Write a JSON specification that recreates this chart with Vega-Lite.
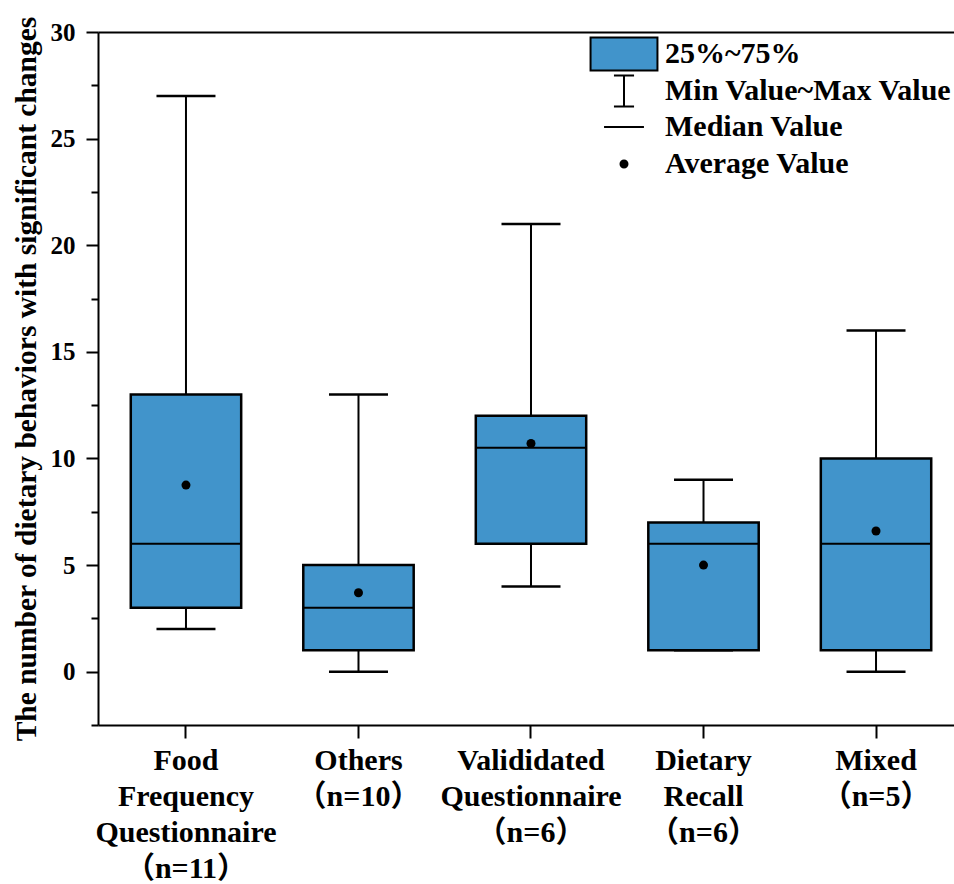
{
  "$schema": "https://vega.github.io/schema/vega-lite/v6.json",
  "width": 856,
  "height": 693,
  "autosize": "none",
  "padding": {"left": 98, "top": 32, "right": 0, "bottom": 159},
  "background": "white",
  "config": {
    "view": {"stroke": null},
    "font": "Liberation Serif",
    "axisY": {
      "domainColor": "black", "domainWidth": 2, "tickColor": "black", "tickWidth": 2,
      "labelFont": "Liberation Serif", "labelFontWeight": "bold", "labelFontSize": 25, "labelColor": "black",
      "titleFont": "Liberation Serif", "titleFontWeight": "bold", "titleFontSize": 29.5, "titleColor": "black",
      "grid": false
    }
  },
  "datasets": {
    "boxes": [
      {"cat": "Food|Frequency|Questionnaire|（n=11）", "min": 2, "q1": 3, "median": 6, "q3": 13, "max": 27, "mean": 8.75},
      {"cat": "Others|（n=10）", "min": 0, "q1": 1, "median": 3, "q3": 5, "max": 13, "mean": 3.7},
      {"cat": "Valididated|Questionnaire|（n=6）", "min": 4, "q1": 6, "median": 10.5, "q3": 12, "max": 21, "mean": 10.7},
      {"cat": "Dietary|Recall|（n=6）", "min": 1, "q1": 1, "median": 6, "q3": 7, "max": 9, "mean": 5.0},
      {"cat": "Mixed|（n=5）", "min": 0, "q1": 1, "median": 6, "q3": 10, "max": 16, "mean": 6.6}
    ],
    "legendItems": [
      {"item": "25%~75%"},
      {"item": "Min Value~Max Value"},
      {"item": "Median Value"},
      {"item": "Average Value"}
    ]
  },
  "layer": [
    {
      "data": {"name": "boxes"},
      "mark": {"type": "rule", "color": "black", "strokeWidth": 2},
      "encoding": {
        "x": {
          "field": "cat", "type": "nominal", "sort": null,
          "scale": {"paddingInner": 0.36, "paddingOuter": 0.161, "align": 0.59},
          "axis": {
            "orient": "bottom", "title": null, "labelAngle": 0,
            "labelExpr": "split(datum.label, '|')",
            "labelFont": "Liberation Serif, Noto Sans CJK SC", "labelFontWeight": "bold", "labelFontSize": 30,
            "labelColor": "black", "labelLineHeight": 36, "labelPadding": 7, "labelLimit": 400,
            "labelBaseline": "top",
            "domainColor": "black", "domainWidth": 2, "tickColor": "black", "tickWidth": 2, "tickSize": 13,
            "grid": false
          }
        },
        "y": {
          "field": "min", "type": "quantitative",
          "scale": {"domain": [-2.5, 30], "nice": false, "zero": false},
          "title": "The number of dietary behaviors with significant changes",
          "axis": {
            "values": [-2.5, 0, 2.5, 5, 7.5, 10, 12.5, 15, 17.5, 20, 22.5, 25, 27.5, 30],
            "labelExpr": "datum.value % 5 === 0 ? datum.label : ''",
            "tickSize": {"condition": {"test": "datum.value % 5 === 0", "value": 12}, "value": 7},
            "labelPadding": 11, "titlePadding": 9
          }
        },
        "y2": {"field": "max"}
      }
    },
    {
      "data": {"name": "boxes"},
      "mark": {"type": "bar", "fill": "#4194CB", "stroke": "black", "strokeWidth": 2.5, "width": {"band": 1}},
      "encoding": {
        "x": {
          "field": "cat", "type": "nominal", "sort": null,
          "axis": {"orient": "top", "labels": false, "ticks": false, "title": null, "domainColor": "black", "domainWidth": 2, "grid": false}
        },
        "y": {"field": "q1", "type": "quantitative", "title": "The number of dietary behaviors with significant changes"},
        "y2": {"field": "q3"}
      }
    },
    {
      "data": {"name": "boxes"},
      "mark": {"type": "tick", "color": "black", "opacity": 1, "size": 110, "thickness": 2},
      "encoding": {
        "x": {"field": "cat", "type": "nominal", "sort": null, "axis": null},
        "y": {"field": "median", "type": "quantitative", "title": "The number of dietary behaviors with significant changes"}
      }
    },
    {
      "data": {"name": "boxes"},
      "mark": {"type": "tick", "color": "black", "opacity": 1, "size": 59, "thickness": 2.5},
      "encoding": {
        "x": {"field": "cat", "type": "nominal", "sort": null, "axis": null},
        "y": {"field": "max", "type": "quantitative", "title": "The number of dietary behaviors with significant changes"}
      }
    },
    {
      "data": {"name": "boxes"},
      "mark": {"type": "tick", "color": "black", "opacity": 1, "size": 59, "thickness": 2.5},
      "encoding": {
        "x": {"field": "cat", "type": "nominal", "sort": null, "axis": null},
        "y": {"field": "min", "type": "quantitative", "title": "The number of dietary behaviors with significant changes"}
      }
    },
    {
      "data": {"name": "boxes"},
      "mark": {"type": "point", "filled": true, "color": "black", "opacity": 1, "size": 81},
      "encoding": {
        "x": {"field": "cat", "type": "nominal", "sort": null, "axis": null},
        "y": {"field": "mean", "type": "quantitative", "title": "The number of dietary behaviors with significant changes"}
      }
    },
    {
      "data": {"name": "legendItems"},
      "mark": {"type": "point", "filled": true, "opacity": 0, "size": 900},
      "encoding": {
        "shape": {
          "field": "item", "type": "nominal",
          "scale": {
            "domain": ["25%~75%", "Min Value~Max Value", "Median Value", "Average Value"],
            "range": [
              "M-2.23,-1.1H2.23V1.1H-2.23Z",
              "M-0.67,-1.03H0.67M0,-1.03V1.03M-0.67,1.03H0.67",
              "M-1.33,0H1.33",
              "M0,-1.6M0.233,0A0.233,0.233,0,1,1,-0.233,0A0.233,0.233,0,1,1,0.233,0Z"
            ]
          },
          "legend": {
            "title": null, "orient": "none", "legendX": 510, "legendY": 6, "padding": 0,
            "symbolSize": 900, "symbolOpacity": 1, "symbolStrokeColor": "black", "symbolStrokeWidth": 2,
            "labelFont": "Liberation Serif", "labelFontWeight": "bold", "labelFontSize": 30, "labelColor": "black",
            "labelOffset": 25, "rowPadding": -6, "labelLimit": 400,
            "encode": {"symbols": {"update": {"stroke": {"value": "black"}, "strokeWidth": {"value": 2}, "opacity": {"value": 1}}}}
          }
        },
        "color": {
          "field": "item", "type": "nominal",
          "scale": {
            "domain": ["25%~75%", "Min Value~Max Value", "Median Value", "Average Value"],
            "range": ["#4194CB", "black", "black", "black"]
          },
          "legend": {
            "title": null, "orient": "none", "legendX": 510, "legendY": 6, "padding": 0,
            "symbolSize": 900, "symbolOpacity": 1, "symbolStrokeColor": "black", "symbolStrokeWidth": 2,
            "labelFont": "Liberation Serif", "labelFontWeight": "bold", "labelFontSize": 30, "labelColor": "black",
            "labelOffset": 25, "rowPadding": -6, "labelLimit": 400,
            "encode": {"symbols": {"update": {"stroke": {"value": "black"}, "strokeWidth": {"value": 2}, "opacity": {"value": 1}}}}
          }
        }
      }
    }
  ],
  "resolve": {"axis": {"x": "independent"}}
}
